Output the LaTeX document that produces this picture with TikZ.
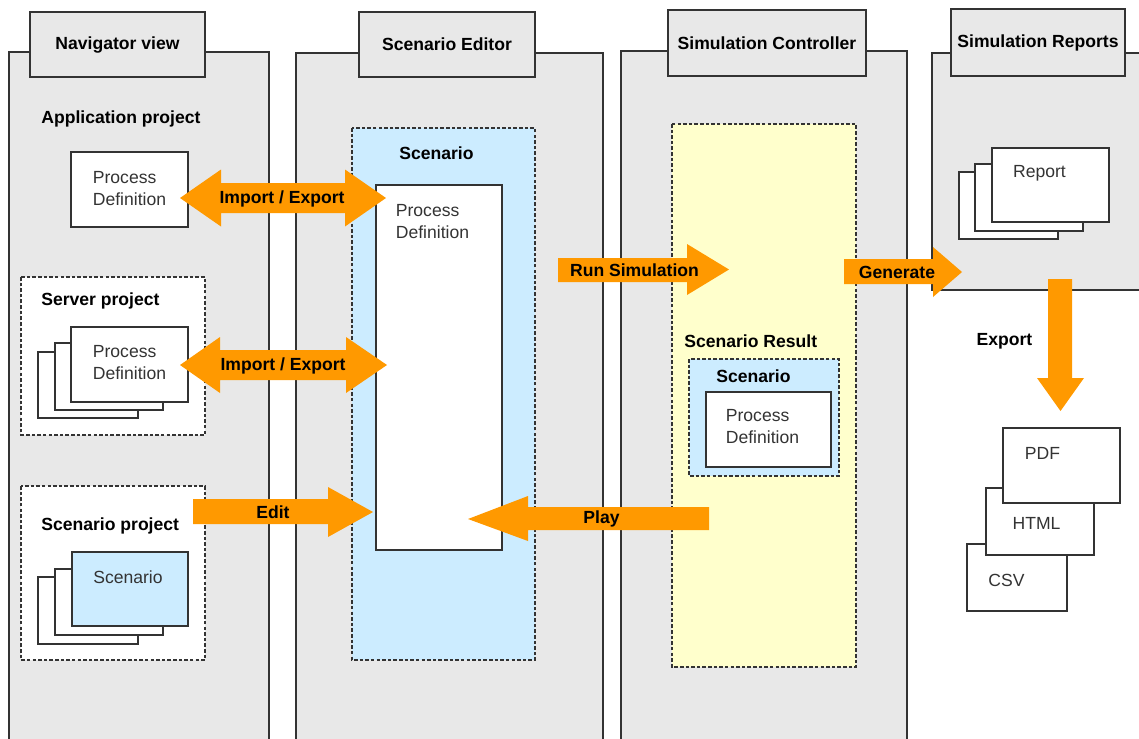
\documentclass[tikz,border=0pt]{standalone}
\usepackage{fontspec}
\setmainfont{Liberation Sans}
\usetikzlibrary{positioning}
\definecolor{panelgray}{HTML}{E8E8E8}
\definecolor{scenblue}{HTML}{CCECFF}
\definecolor{resyellow}{HTML}{FFFFCC}
\definecolor{arroworange}{HTML}{FF9900}
\definecolor{linegray}{HTML}{333333}
\begin{document}
\begin{tikzpicture}[x=0.02cm,y=-0.02cm,
  panel/.style={draw=linegray,fill=panelgray,line width=0.6pt},
  box/.style={draw=linegray,fill=white,line width=0.6pt},
  frame/.style={draw=linegray,line width=0.6pt,dash pattern=on 2pt off 1.2pt},
  head/.style={font=\bfseries\fontsize{10}{12}\selectfont,inner sep=0pt},
  label/.style={font=\fontsize{10}{12.5}\selectfont,text=black!80,align=left,inner sep=0pt},
  blockarrow/.style={fill=arroworange}]
\useasboundingbox (0,0) rectangle (1139,738);
\clip (0,0) rectangle (1139,738);
% columns
\foreach \l/\r/\t in {9/269/52,296/603/53,621/907/51}
{
\draw[panel] (\l,\t) rectangle (\r,760);
}
\draw[panel] (932,53) rectangle (1160,290);
% tabs
\foreach \l/\r/\t/\b/\name/\txt in {30/205/12/77/navtab/Navigator view,359/535/12/77/edtab/Scenario Editor,668/866/10/76/ctrltab/Simulation Controller,951/1125/9/76/reptab/Simulation Reports}
{
\draw[panel] (\l,\t) rectangle (\r,\b);
\node[head] (\name) at ({(\l+\r)/2},{(\t+\b)/2}) {\txt};
}

% navigator view
\node[head,anchor=west] (appproj) at (41,119) {Application project};
\draw[box] (71,152) rectangle (188,227);
\node[label] (apppd) at (129.5,188.5) {Process\\Definition};

\draw[frame,fill=white] (21,277) rectangle (205,435);
\node[head,anchor=west] (srvproj) at (41,301) {Server project};
\foreach \l/\t/\r/\b in {38/352/138/418,55/343/163/410,71/327/188/402}
{
\draw[box] (\l,\t) rectangle (\r,\b);
}
\node[label] (srvpd) at (129.5,363) {Process\\Definition};

\draw[frame,fill=white] (21,486) rectangle (205,660);
\node[head,anchor=west] (scnproj) at (41,526) {Scenario project};
\foreach \l/\t/\r/\b in {38/577/138/644,55/569/163/635}
{
\draw[box] (\l,\t) rectangle (\r,\b);
}
\draw[box,fill=scenblue] (72,552) rectangle (188,626);
\node[label] (scnlabel) at (128,577) {Scenario};

% scenario editor
\draw[frame,fill=scenblue] (352,128) rectangle (535,660);
\node[head] (edscn) at (436.5,153) {Scenario};
\draw[box] (376,185) rectangle (502,550);
\node[label] (edpd) at (432.5,222) {Process\\Definition};

% simulation controller
\draw[frame,fill=resyellow] (672,124) rectangle (856,667);
\node[head,anchor=west] (scnres) at (684,341) {Scenario Result};
\draw[frame,fill=scenblue] (689,359) rectangle (839,476);
\node[head] (resscn) at (753.5,376) {Scenario};
\draw[box] (706,392) rectangle (831,467);
\node[label] (respd) at (762.5,426.5) {Process\\Definition};

% simulation reports
\foreach \l/\t/\r/\b in {959/172/1058/239,975/164/1083/231,992/148/1109/222}
{
\draw[box] (\l,\t) rectangle (\r,\b);
}
\node[label] (rep) at (1039.5,173) {Report};
\node[head] (expo) at (1004.5,341) {Export};
\draw[box] (967,544) rectangle (1067,611);
\node[label] (csv) at (1006.5,580) {CSV};
\draw[box] (986,488) rectangle (1094,555);
\node[label] (html) at (1036.5,523) {HTML};
\draw[box] (1003,428) rectangle (1120,503);
\node[label] (pdf) at (1042.5,453) {PDF};

% block arrows
\fill[blockarrow] (180,198) -- (221,169.5) -- (221,183) -- (345,183) -- (345,169.5) -- (386,198)
  -- (345,226.5) -- (345,213) -- (221,213) -- (221,226.5) -- cycle;
\node[head] (imp1) at (282,199) {Import / Export};
\fill[blockarrow] (180,365) -- (220,337) -- (220,350) -- (346,350) -- (346,337) -- (387,365)
  -- (346,393) -- (346,380) -- (220,380) -- (220,393) -- cycle;
\node[head] (imp2) at (283,366) {Import / Export};
\fill[blockarrow] (193,499) -- (328,499) -- (328,487) -- (373,512) -- (328,537) -- (328,524) -- (193,524) -- cycle;
\node[head] (edit) at (273,512) {Edit};
\fill[blockarrow] (558,258) -- (687,258) -- (687,244) -- (729,269.5) -- (687,295) -- (687,282) -- (558,282) -- cycle;
\node[head] (runsim) at (634.5,270) {Run Simulation};
\fill[blockarrow] (844,259) -- (933,259) -- (933,247) -- (962,272) -- (933,297) -- (933,284) -- (844,284) -- cycle;
\node[head] (gen) at (897,272) {Generate};
\fill[blockarrow] (709,507) -- (528,507) -- (528,496) -- (468,519) -- (528,541) -- (528,530) -- (709,530) -- cycle;
\node[head] (play) at (601.5,519) {Play};
\fill[blockarrow] (1048,279) -- (1072,279) -- (1072,378) -- (1084,378) -- (1060.5,411) -- (1037,378) -- (1048,378) -- cycle;
\end{tikzpicture}
\end{document}
